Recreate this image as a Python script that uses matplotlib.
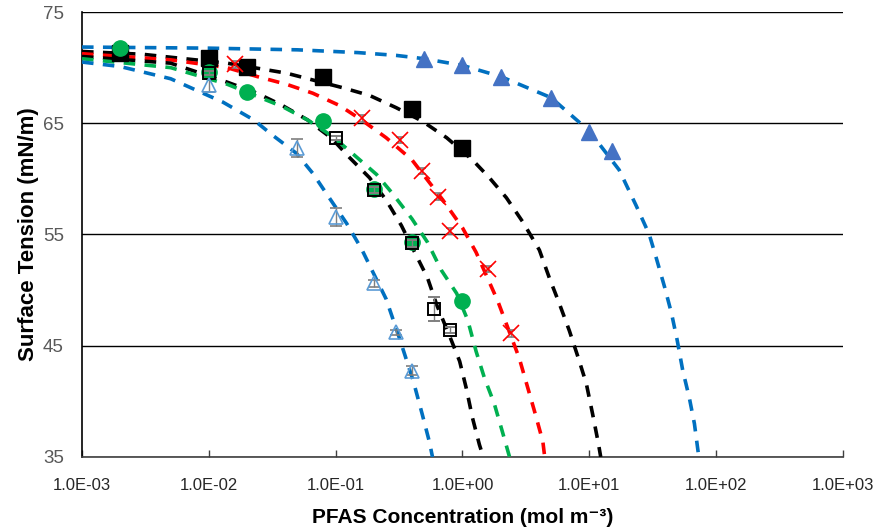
import numpy as np
import matplotlib
matplotlib.use("Agg")
import matplotlib.pyplot as plt
from matplotlib.ticker import FixedLocator, FixedFormatter, NullLocator

plt.rcParams['font.family'] = ['Liberation Sans Narrow', 'Liberation Sans', 'DejaVu Sans']

# ---- measured points ----
# blue filled triangles
tri_x = [0.5, 1.0, 2.0, 5.0, 10.0, 15.0]
tri_y = [70.8, 70.2, 69.2, 67.25, 64.2, 62.5]

# black filled squares
sq_x = [0.002, 0.01, 0.02, 0.08, 0.4, 1.0]
sq_y = [71.3, 70.85, 70.1, 69.2, 66.25, 62.8]

# red crosses
x_x = [0.016, 0.16, 0.32, 0.48, 0.64, 0.8, 1.6, 2.4]
x_y = [70.3, 65.45, 63.5, 60.7, 58.4, 55.3, 51.9, 46.1]

# green circles
circ_x = [0.002, 0.01, 0.02, 0.08, 0.2, 0.4, 1.0]
circ_y = [71.75, 69.6, 67.8, 65.2, 59.1, 54.3, 49.05]

# open squares (with error bars)
osq_x = [0.01, 0.1, 0.2, 0.4, 0.6, 0.8]
osq_y = [69.5, 63.65, 59.0, 54.2, 48.3, 46.4]
osq_err = [0.2, 0.2, 0.3, 0.3, 1.05, 0.3]

# open triangles (with error bars)
otri_x = [0.01, 0.05, 0.1, 0.2, 0.3, 0.4]
otri_y = [68.4, 62.75, 56.6, 50.6, 46.2, 42.75]
otri_err = [0.6, 0.8, 0.8, 0.3, 0.2, 0.4]

# ---- model curves ----
fit_blue_r_x = [0.001, 0.01, 0.05, 0.15, 0.3, 0.5, 1, 2, 5, 10, 17.2, 23.4, 29.7,
                33.7, 39.4, 44.5, 49.3, 54.5, 61.5, 67.4, 73]
fit_blue_r_y = [71.85, 71.75, 71.6, 71.35, 71.1, 70.8, 70.2, 69.2, 67.3, 64.3, 60.8,
                57.6, 55.0, 52.9, 50.2, 47.9, 45.5, 42.8, 40.3, 38.0, 35.0]

fit_black_r_x = [0.001, 0.003, 0.0139, 0.024, 0.041, 0.113, 0.185, 0.3, 0.48, 0.75,
                 1.2, 1.63, 2.22, 3.0, 4.04, 4.84, 5.8, 6.96, 8.19, 9.47, 10.6, 11.8, 12.3]
fit_black_r_y = [71.45, 71.2, 70.4, 69.95, 69.5, 68.2, 67.5, 66.4, 65.2, 63.7,
                 61.7, 60.1, 58.3, 56.1, 53.6, 51.1, 48.8, 46.35, 43.9, 41.6, 38.9, 36.2, 35.0]

fit_red_x = [0.001, 0.005, 0.0139, 0.024, 0.041, 0.066, 0.107, 0.16, 0.25, 0.4, 0.7,
             1.0, 1.28, 1.9, 2.8, 3.2, 3.7, 4.3, 4.45]
fit_red_y = [71.25, 70.7, 70.0, 69.2, 68.5, 67.7, 66.6, 65.3, 63.7, 61.7, 58.1,
             55.6, 53.4, 49.0, 43.9, 41.6, 39.1, 36.4, 35.0]

fit_black_l_x = [0.001, 0.005, 0.0139, 0.024, 0.038, 0.06, 0.093, 0.129, 0.185, 0.25,
                 0.33, 0.42, 0.53, 0.63, 0.79, 0.95, 1.07, 1.2, 1.36, 1.46]
fit_black_l_y = [71.0, 70.4, 68.7, 67.7, 66.6, 65.3, 63.65, 61.9, 60.1, 58.1,
                 55.8, 53.4, 51.1, 48.6, 45.9, 43.6, 41.2, 38.5, 36.1, 35.0]

fit_green_x = [0.001, 0.005, 0.014, 0.038, 0.06, 0.095, 0.135, 0.21, 0.28, 0.40, 0.53,
               0.68, 0.9, 1.1, 1.28, 1.49, 1.78, 2.06, 2.35]
fit_green_y = [70.8, 70.0, 68.5, 66.5, 65.3, 63.8, 62.3, 60.4, 58.7, 56.4, 54.3,
               51.8, 49.7, 47.3, 44.5, 42.1, 39.8, 37.3, 35.0]

fit_blue_l_x = [0.001, 0.002, 0.005, 0.0129, 0.0226, 0.032, 0.049, 0.066, 0.089, 0.122,
                0.16, 0.195, 0.25, 0.32, 0.41, 0.48, 0.55, 0.58]
fit_blue_l_y = [70.5, 70.1, 69.0, 66.9, 65.3, 63.9, 62.3, 60.5, 58.3, 56.0,
                53.7, 51.7, 49.2, 45.6, 41.8, 38.9, 36.3, 35.0]

xtick_vals = [1e-3, 1e-2, 1e-1, 1e0, 1e1, 1e2, 1e3]
xtick_labels = ['1.0E-03', '1.0E-02', '1.0E-01', '1.0E+00', '1.0E+01', '1.0E+02', '1.0E+03']
ytick_vals = [35, 45, 55, 65, 75]

BLUE = '#0070C0'
GREEN = '#00B050'
RED = '#FF0000'
TRI_BLUE = '#4472C4'
LIGHT_BLUE = '#5B9BD5'
GRAY = '#7F7F7F'

fig = plt.figure(figsize=(8.79, 5.31), dpi=100)
ax = fig.add_axes([0.0933, 0.1394, 0.8657, 0.838])

dash = dict(linestyle=(0, (3.2, 2.6)), linewidth=2.6, zorder=3)
ax.plot(fit_blue_r_x, fit_blue_r_y, color=BLUE, **dash)
ax.plot(fit_black_r_x, fit_black_r_y, color='black', **dash)
ax.plot(fit_red_x, fit_red_y, color=RED, **dash)
ax.plot(fit_black_l_x, fit_black_l_y, color='black', **dash)
ax.plot(fit_green_x, fit_green_y, color=GREEN, **dash)
ax.plot(fit_blue_l_x, fit_blue_l_y, color=BLUE, **dash)

ax.plot(tri_x, tri_y, '^', color=TRI_BLUE, markersize=11, zorder=5)
ax.plot(sq_x, sq_y, 's', color='black', markersize=11, zorder=5)
ax.errorbar(x_x, x_y, yerr=0.3, fmt='x', color=RED, ecolor=GRAY, elinewidth=1,
            capsize=3, markersize=12, mew=1.2, zorder=5)
ax.plot(circ_x, circ_y, 'o', color=GREEN, markersize=11, zorder=5)
ax.errorbar(osq_x, osq_y, yerr=osq_err, fmt='s', mfc='none', mec='black', mew=1.4,
            markersize=8, ecolor=GRAY, elinewidth=1, capsize=4, zorder=6)
ax.errorbar(otri_x, otri_y, yerr=otri_err, fmt='^', mfc='none', mec=LIGHT_BLUE, mew=1.2,
            markersize=10, ecolor=GRAY, elinewidth=1, capsize=4, zorder=6)

ax.set_xscale('log')
ax.set_xlim(1e-3, 1e3)
ax.set_ylim(35, 75)
ax.xaxis.set_major_locator(FixedLocator(xtick_vals))
ax.xaxis.set_major_formatter(FixedFormatter(xtick_labels))
ax.xaxis.set_minor_locator(NullLocator())
ax.set_yticks(ytick_vals)

ax.grid(True, axis='y', color='black', linewidth=1.0, zorder=1)
ax.set_axisbelow(True)
for side in ['top', 'right']:
    ax.spines[side].set_visible(False)
ax.spines['left'].set_linewidth(1.2)
ax.spines['bottom'].set_linewidth(1.2)
ax.spines['bottom'].set_color('#404040')

ax.tick_params(axis='x', direction='in', length=5, width=1, colors='#404040',
               labelcolor='#262626', labelsize=12, pad=15)
ax.tick_params(axis='y', length=0, labelcolor='#595959', labelsize=13.5, pad=13)

ax.set_xlabel('PFAS Concentration (mol m\u207b\u00b3)', fontsize=15, fontweight='bold', labelpad=11)
ax.set_ylabel('Surface Tension (mN/m)', fontsize=16, fontweight='bold', labelpad=3)

fig.savefig('out.png', dpi=100)
